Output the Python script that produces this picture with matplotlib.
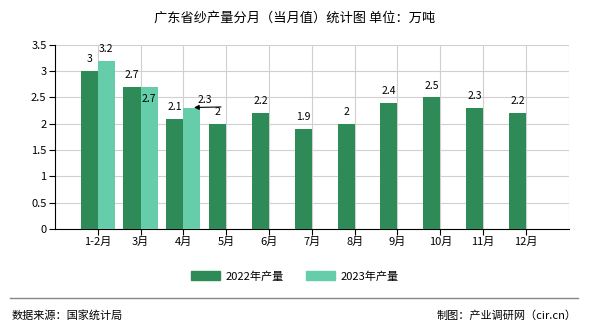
import matplotlib.pyplot as plt
from matplotlib.patches import Patch
from matplotlib.lines import Line2D
import numpy as np

plt.rcParams['font.family'] = ['Noto Sans CJK SC', 'DejaVu Sans']

months = ['1-2月', '3月', '4月', '5月', '6月', '7月', '8月', '9月', '10月', '11月', '12月']
prod_2022 = [3, 2.7, 2.1, 2, 2.2, 1.9, 2, 2.4, 2.5, 2.3, 2.2]
prod_2023 = [3.2, 2.7, 2.3]
yticks = [0, 0.5, 1, 1.5, 2, 2.5, 3, 3.5]

c22 = '#2e8b57'
c23 = '#66cdaa'

fig = plt.figure(figsize=(5.9, 3.3), dpi=100)
ax = fig.add_axes([0.093, 0.306, 0.871, 0.558])

x = np.arange(len(months))
w = 0.4
ax.bar(x[:len(prod_2022)] - w / 2, prod_2022, w, color=c22, zorder=3)
ax.bar(x[:len(prod_2023)] + w / 2, prod_2023, w, color=c23, zorder=3)

# value labels (offsets in points, tuned to the reference)
for i, v in enumerate(prod_2022):
    ax.annotate(f'{v:g}', (x[i] - w / 2, v), xytext=(0, 5), textcoords='offset points',
                ha='center', va='bottom', fontsize=7.5, zorder=5)
off23 = {0: (0, 5), 1: (0, -12), 2: (9, 2)}
for i, v in enumerate(prod_2023):
    dx, dy = off23.get(i, (0, 5))
    ax.annotate(f'{v:g}', (x[i] + w / 2, v), xytext=(dx, dy), textcoords='offset points',
                ha='center', va='bottom', fontsize=7.5, zorder=5)
# small pointer arrow next to the 4月 2023 label
ax.annotate('', xy=(x[2] + w / 2 + 0.05, prod_2023[2] + 0.01), xytext=(x[2] + w / 2 + 0.68, prod_2023[2] + 0.02),
            arrowprops=dict(arrowstyle='-|>', color='black', lw=0.8, mutation_scale=7,
                            shrinkA=0, shrinkB=0), zorder=6)

ax.set_xlim(-1, len(months))
ax.set_ylim(0, 3.5)
ax.set_xticks(x)
ax.set_xticklabels(months, fontsize=8)
ax.set_yticks(yticks)
ax.set_yticklabels([f'{t:g}' for t in yticks], fontsize=8)
ax.grid(True, color='#d0d0d0', lw=0.8, zorder=0)
ax.set_axisbelow(True)
for s in ['top', 'right']:
    ax.spines[s].set_visible(False)
ax.axvline(len(months), color='#d0d0d0', lw=0.8, zorder=0)
ax.spines['left'].set_color('black')
ax.spines['bottom'].set_color('black')
ax.tick_params(axis='both', direction='out', length=4, width=0.8, pad=2)

fig.text(0.5, 0.945, '广东省纱产量分月（当月值）统计图 单位：万吨', ha='center', va='center', fontsize=9.5)

handles = [Patch(color=c22), Patch(color=c23)]
fig.legend(handles, ['2022年产量', '2023年产量'], loc='center', bbox_to_anchor=(0.5, 0.163),
           ncol=2, frameon=False, fontsize=8, handlelength=2.6, handleheight=0.9,
           handletextpad=0.5, columnspacing=2.0)

fig.add_artist(Line2D([0.017, 0.98], [0.097, 0.097], color='#888888', lw=1, transform=fig.transFigure))
fig.text(0.02, 0.045, '数据来源：国家统计局', ha='left', va='center', fontsize=8)
fig.text(0.978, 0.045, '制图：产业调研网（cir.cn）', ha='right', va='center', fontsize=8)

fig.savefig('out.png', dpi=100)
